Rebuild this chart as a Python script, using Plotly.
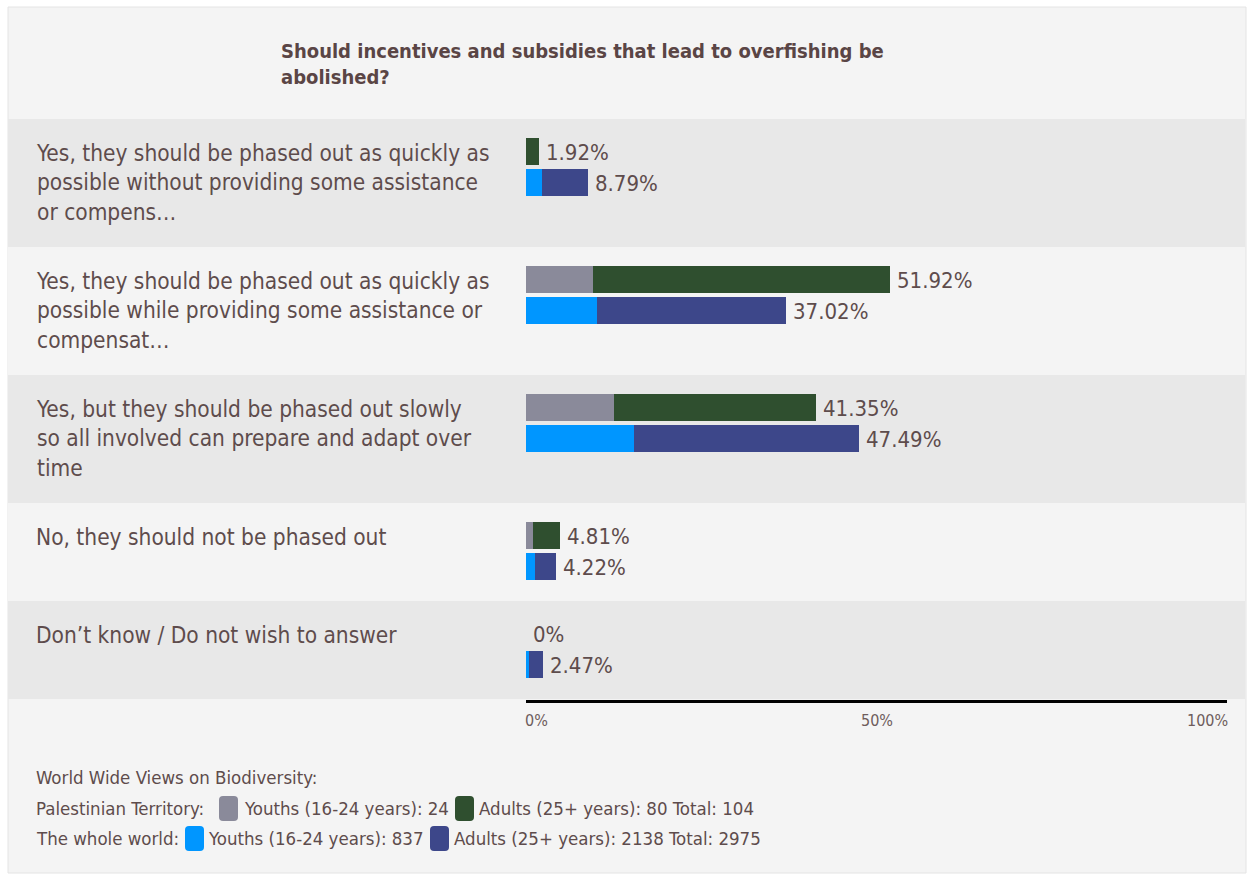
import plotly.graph_objects as go

# ---- data -------------------------------------------------------------
question = "Should incentives and subsidies that lead to overfishing be<br>abolished?"

categories = [
    "Yes, they should be phased out as quickly as<br>possible without providing some assistance<br>or compens…",
    "Yes, they should be phased out as quickly as<br>possible while providing some assistance or<br>compensat…",
    "Yes, but they should be phased out slowly<br>so all involved can prepare and adapt over<br>time",
    "No, they should not be phased out",
    "Don’t know / Do not wish to answer",
]

# Palestinian Territory (% of respondents)
pt_youth = [0.00, 9.62, 12.50, 0.96, 0.00]
pt_adult = [1.92, 42.30, 28.85, 3.85, 0.00]

# The whole world (% of respondents)
world_youth = [2.35, 10.10, 15.40, 1.25, 0.40]
world_adult = [6.44, 26.92, 32.09, 2.97, 2.07]

tick_values = [0, 50, 100]
tick_labels = ["0%", "50%", "100%"]

legend_title = "World Wide Views on Biodiversity:"
legend_rows = [
    ("Palestinian Territory:", "Youths (16-24 years): 24", "Adults (25+ years): 80 Total: 104"),
    ("The whole world:", "Youths (16-24 years): 837", "Adults (25+ years): 2138 Total: 2975"),
]

# ---- style ------------------------------------------------------------
W, H = 1254, 877
FONT = "Liberation Sans Narrow, DejaVu Sans Condensed, Arial Narrow, sans-serif"
TEXT = "#5e4c4c"
C_PT_YOUTH = "#8a8a9a"
C_PT_ADULT = "#2f4f2f"
C_W_YOUTH = "#0096ff"
C_W_ADULT = "#3d478a"
BAND_DARK = "#e8e8e8"
BAND_LIGHT = "#f4f4f4"

X0_PX, X1_PX = 526, 1227   # plot area horizontal extent
AXIS_Y_PX = 701
BAND_TOP_PX = 119
BAR_H = 27


def px(x):
    return x / W


def py(y):
    return 1 - y / H


# band layout derived from number of label lines
tops, heights = [], []
y = BAND_TOP_PX
for lab in categories:
    n = lab.count("<br>") + 1
    h = max(98, 38 + 30 * n)
    tops.append(y)
    heights.append(h)
    y += h

y_pt = [t + 32 for t in tops]
y_world = [t + 63 for t in tops]

fig = go.Figure()

for name, xs, ys, col in [
    ("Palestinian Territory – Youths", pt_youth, y_pt, C_PT_YOUTH),
    ("Palestinian Territory – Adults", pt_adult, y_pt, C_PT_ADULT),
    ("The whole world – Youths", world_youth, y_world, C_W_YOUTH),
    ("The whole world – Adults", world_adult, y_world, C_W_ADULT),
]:
    fig.add_trace(go.Bar(
        x=xs, y=ys, orientation="h", width=BAR_H, name=name,
        marker=dict(color=col, line=dict(width=0)),
        hoverinfo="x+name", showlegend=False,
    ))

shapes = []
# outer panel
shapes.append(dict(type="rect", xref="paper", yref="paper",
                   x0=px(8), x1=px(1246), y0=py(873), y1=py(7),
                   fillcolor="#f4f4f4", line=dict(color="#e4e4e4", width=1),
                   layer="below"))
# category bands
for i, (t, h) in enumerate(zip(tops, heights)):
    shapes.append(dict(type="rect", xref="paper", yref="y",
                       x0=px(8), x1=px(1245), y0=t, y1=t + h,
                       fillcolor=BAND_DARK if i % 2 == 0 else BAND_LIGHT,
                       line=dict(width=0), layer="below"))

annotations = []
# title
annotations.append(dict(text="<b>" + question + "</b>", xref="paper", yref="paper",
                        x=px(279), y=py(37), xanchor="left", yanchor="top",
                        align="left", showarrow=False,
                        font=dict(family=FONT, size=20, color="#5a4545")))
# category labels
for lab, t in zip(categories, tops):
    annotations.append(dict(text=lab, xref="paper", yref="y",
                            x=px(34), y=t + 19, xanchor="left", yanchor="top",
                            align="left", showarrow=False,
                            font=dict(family=FONT, size=22.5, color=TEXT)))


def pct(v):
    return f"{round(v, 2):g}%"


# value labels at the end of each stacked bar
for a, b, yy in list(zip(pt_youth, pt_adult, y_pt)) + list(zip(world_youth, world_adult, y_world)):
    tot = a + b
    annotations.append(dict(text=pct(tot), x=tot, y=yy + 1, xref="x", yref="y",
                            xanchor="left", yanchor="middle", xshift=5,
                            showarrow=False,
                            font=dict(family=FONT, size=22, color=TEXT)))

# axis tick labels
for v, lab in zip(tick_values, tick_labels):
    if v == tick_values[0]:
        anchor, shift = "left", -3
    elif v == tick_values[-1]:
        anchor, shift = "right", 3
    else:
        anchor, shift = "center", 0
    annotations.append(dict(text=lab, x=v, y=py(720), xref="x", yref="paper",
                            xanchor=anchor, xshift=shift, yanchor="middle", showarrow=False,
                            font=dict(family=FONT, size=16, color="#6e5c5c")))

# legend text block
LEG_SIZE = 18.5
annotations.append(dict(text=legend_title, xref="paper", yref="paper",
                        x=px(34), y=py(777), xanchor="left", yanchor="middle",
                        showarrow=False, font=dict(family=FONT, size=LEG_SIZE, color=TEXT)))
legend_layout = [
    # (row y, label x, youth swatch x, youth text x, adult swatch x, adult text x)
    (808, 34, 219, 242, 455, 477),
    (838, 34, 185, 206, 430, 452),
]
legend_colors = [(C_PT_YOUTH, C_PT_ADULT), (C_W_YOUTH, C_W_ADULT)]
for (row, cols, (ly, lx, s1, t1, s2, t2)) in zip(legend_rows, legend_colors, legend_layout):
    for txt, xx in zip(row, (lx, t1, t2)):
        annotations.append(dict(text=txt, xref="paper", yref="paper",
                                x=px(xx), y=py(ly), xanchor="left", yanchor="middle",
                                showarrow=False,
                                font=dict(family=FONT, size=LEG_SIZE, color=TEXT)))
    for col, sx in zip(cols, (s1, s2)):
        shapes.append(dict(type="path", xref="paper", yref="paper",
                           path=(f"M {px(sx+4)},{py(ly-12)} L {px(sx+15)},{py(ly-12)} "
                                 f"Q {px(sx+19)},{py(ly-12)} {px(sx+19)},{py(ly-8)} "
                                 f"L {px(sx+19)},{py(ly+9)} Q {px(sx+19)},{py(ly+13)} {px(sx+15)},{py(ly+13)} "
                                 f"L {px(sx+4)},{py(ly+13)} Q {px(sx)},{py(ly+13)} {px(sx)},{py(ly+9)} "
                                 f"L {px(sx)},{py(ly-8)} Q {px(sx)},{py(ly-12)} {px(sx+4)},{py(ly-12)} Z"),
                           fillcolor=col, line=dict(width=0)))

fig.update_layout(
    width=W, height=H,
    margin=dict(l=0, r=0, t=0, b=0),
    paper_bgcolor="white", plot_bgcolor="rgba(0,0,0,0)",
    barmode="stack", bargap=0,
    xaxis=dict(domain=[px(X0_PX), px(X1_PX)], range=[0, 100], anchor="free",
               position=py(AXIS_Y_PX), showline=True, linecolor="black", linewidth=3,
               showgrid=False, zeroline=False, showticklabels=False, ticks="",
               fixedrange=True),
    yaxis=dict(domain=[0, 1], range=[H, 0], visible=False, fixedrange=True),
    shapes=shapes, annotations=annotations,
    font=dict(family=FONT, color=TEXT),
)

fig.write_html("out.html")
